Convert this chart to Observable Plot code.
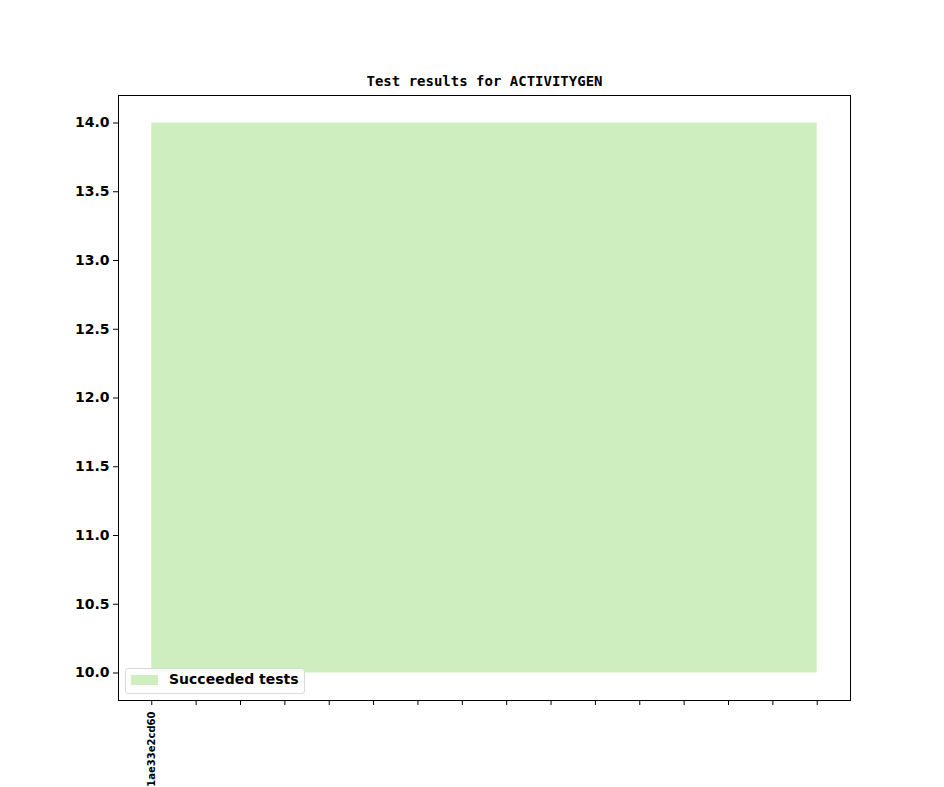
<!DOCTYPE html>
<html>
<head>
<meta charset="utf-8">
<script src="https://cdn.jsdelivr.net/npm/d3@7"></script>
<script src="https://cdn.jsdelivr.net/npm/@observablehq/plot@0.6"></script>
<style>
  body { margin: 0; background: #fff; }
  #chart { position: relative; width: 944px; height: 787px; overflow: hidden; }
  #legend {
    position: absolute; left: 125px; top: 668px; width: 178px; height: 24px;
    background: rgba(255,255,255,0.8); border: 1px solid #d9d9d9; border-radius: 3px;
    font: bold 14px "DejaVu Sans", sans-serif; color: #000;
  }
  #legend .sw { position: absolute; left: 5px; top: 6px; width: 27px; height: 10px; background: #cfeebf; }
  #legend .lb { position: absolute; left: 43px; top: 2px; }
</style>
</head>
<body>
<div id="chart">
  <div id="legend"><span class="sw"></span><span class="lb">Succeeded tests</span></div>
</div>
<script>
// commits along x, only the first one gets a label
const commits = d3.range(16)
const commitLabels = ["1ae33e2cd60", "", "", "", "", "", "", "", "", "", "", "", "", "", "", ""]
const succeeded = [14, 14, 14, 14, 14, 14, 14, 14, 14, 14, 14, 14, 14, 14, 14, 14]
const lower = [10, 10, 10, 10, 10, 10, 10, 10, 10, 10, 10, 10, 10, 10, 10, 10]
const yTicks = [10, 10.5, 11, 11.5, 12, 12.5, 13, 13.5, 14]

const data = commits.map((c, i) => ({x: c, y1: lower[i], y2: succeeded[i]}))

const chart = Plot.plot({
  width: 944,
  height: 787,
  marginLeft: 118,
  marginRight: 94,
  marginTop: 95,
  marginBottom: 87,
  style: {fontFamily: "DejaVu Sans", fontWeight: "bold", color: "#000", background: "#fff", overflow: "visible"},
  x: {domain: [-0.75, 15.75]},
  y: {domain: [9.8, 14.2]},
  marks: [
    Plot.areaY(data, {x: "x", y1: "y1", y2: "y2", fill: "#cfeebf"}),
    Plot.frame({stroke: "#000", strokeWidth: 1}),
    Plot.axisY({ticks: yTicks, tickFormat: d3.format(".1f"), tickSize: 5, tickPadding: 4, fontSize: 14, label: null}),
    Plot.axisX({ticks: commits, tickFormat: (d, i) => commitLabels[i], tickSize: 5, tickPadding: 6,
      tickRotate: -90, fontSize: 10, label: null}),
    Plot.text(["Test results for ACTIVITYGEN"], {frameAnchor: "top", dy: -19, fontSize: 14,
      fontFamily: "DejaVu Sans Mono", fontWeight: "bold", fill: "#000"})
  ]
})

d3.select("#chart").insert(() => chart, "#legend")
</script>
</body>
</html>
